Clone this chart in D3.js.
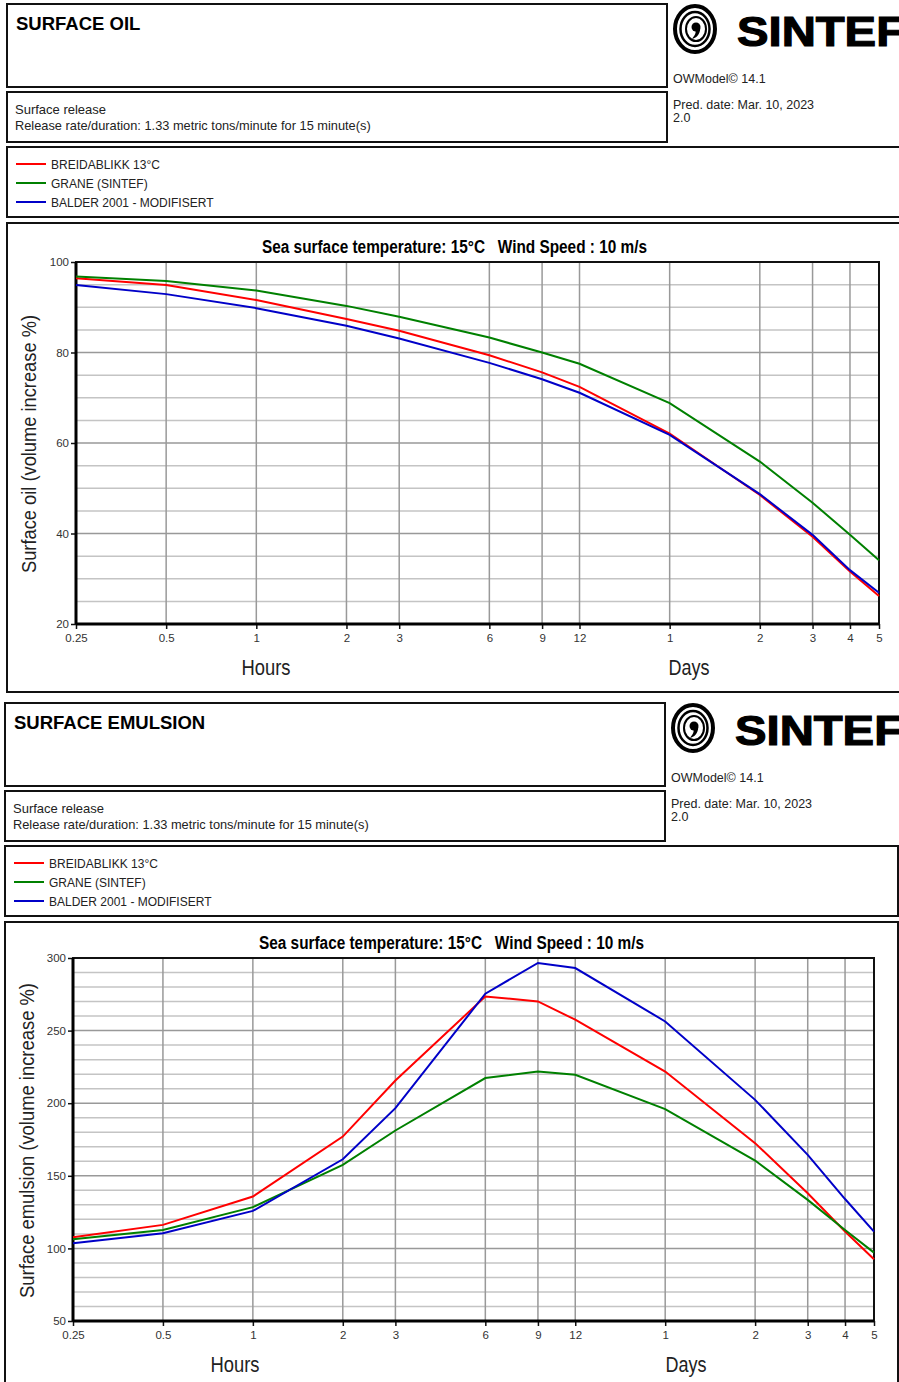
<!DOCTYPE html>
<html>
<head>
<meta charset="utf-8">
<script src="https://cdn.jsdelivr.net/npm/d3@7"></script>
<style>
  body { margin: 0; background: #fff; }
  text { font-family: "Liberation Sans", Arial, sans-serif; white-space: pre; }
  .narrow { font-family: "Liberation Sans Narrow", "Arial Narrow", "Liberation Sans", sans-serif; }
</style>
</head>
<body>
<svg id="page" width="899" height="1382"></svg>
<script>
// time axis, in hours (labels switch to days after 12 h)
const hours = [0.25, 0.5, 1, 2, 3, 6, 9, 12, 24, 48, 72, 96, 120];
const hourTickLabels = ["0.25", "0.5", "1", "2", "3", "6", "9", "12", "1", "2", "3", "4", "5"];

const oilNames = ["BREIDABLIKK 13°C", "GRANE (SINTEF)", "BALDER 2001 - MODIFISERT"];
const oilColors = ["#ff0000", "#008000", "#0000c8"];

// surface oil, volume %
const oilBreidablikk = [96.4, 94.9, 91.6, 87.4, 84.8, 79.4, 75.6, 72.4, 62.1, 48.5, 39.3, 31.6, 26.2];
const oilGrane       = [96.8, 95.8, 93.7, 90.3, 87.9, 83.3, 80.0, 77.5, 68.8, 55.9, 46.8, 39.7, 34.1];
const oilBalder      = [94.9, 92.9, 89.8, 85.9, 83.1, 77.7, 74.1, 71.1, 61.8, 48.7, 39.7, 31.9, 26.9];

// surface emulsion, volume %
const emulBreidablikk = [107.7, 116.2, 135.7, 177.0, 215.6, 273.5, 270.1, 257.5, 221.8, 172.5, 138.0, 111.6, 92.5];
const emulGrane       = [106.3, 112.7, 128.4, 157.5, 181.2, 217.3, 221.8, 219.6, 195.9, 160.5, 133.4, 112.7, 97.1];
const emulBalder      = [103.6, 110.4, 125.8, 161.4, 196.6, 275.4, 296.6, 293.1, 256.3, 202.3, 164.4, 134.0, 111.6];

const oilTicks = [20, 40, 60, 80, 100];
const emulTicks = [50, 100, 150, 200, 250, 300];

const svg = d3.select("#page");

const panels = [
  {
    title: "SURFACE OIL", dx: 0, dy: 0, boxRight: 902,
    yDomain: [20, 100], yTicks: oilTicks, minorStep: 5,
    yLabel: "Surface oil (volume increase %)", yLabelLen: 258,
    plot: { left: 76, right: 879, top: 262, bottom: 624 },
    hoursX: 266, daysX: 689, chartBottom: 692,
    series: [oilBreidablikk, oilGrane, oilBalder]
  },
  {
    title: "SURFACE EMULSION", dx: -2, dy: 699, boxRight: 898,
    yDomain: [50, 300], yTicks: emulTicks, minorStep: 10,
    yLabel: "Surface emulsion (volume increase %)", yLabelLen: 315,
    plot: { left: 73, right: 874, top: 958, bottom: 1321 },
    hoursX: 235, daysX: 686, chartBottom: 1392,
    series: [emulBreidablikk, emulGrane, emulBalder]
  }
];

const box = (g, x, y, w, h) =>
  g.append("rect").attr("x", x).attr("y", y).attr("width", w).attr("height", h)
   .attr("fill", "none").attr("stroke", "#111").attr("stroke-width", 2);

const drawLogo = (g, cx, cy) => {
  // SINTEF emblem: rings with a comma inside
  g.append("ellipse").attr("cx", cx).attr("cy", cy).attr("rx", 20).attr("ry", 23)
   .attr("fill", "none").attr("stroke", "#000").attr("stroke-width", 4);
  g.append("ellipse").attr("cx", cx).attr("cy", cy).attr("rx", 14.5).attr("ry", 17)
   .attr("fill", "none").attr("stroke", "#000").attr("stroke-width", 2.5);
  g.append("ellipse").attr("cx", cx + 1).attr("cy", cy).attr("rx", 10).attr("ry", 12)
   .attr("fill", "none").attr("stroke", "#000").attr("stroke-width", 2);
  g.append("circle").attr("cx", cx + 1).attr("cy", cy - 2).attr("r", 4.5).attr("fill", "#000");
  g.append("path")
   .attr("d", `M${cx + 5.3},${cy - 1} C${cx + 5},${cy + 6} ${cx + 1},${cy + 9} ${cx - 3},${cy + 10} C${cx},${cy + 6} ${cx + 1},${cy + 4} ${cx + 0.5},${cy + 2} Z`)
   .attr("fill", "#000");
  g.append("text").attr("x", cx + 42).attr("y", cy + 17)
   .attr("font-size", 42).attr("font-weight", 900)
   .attr("stroke", "#000").attr("stroke-width", 1.2)
   .attr("textLength", 168).attr("lengthAdjust", "spacingAndGlyphs")
   .text("SINTEF");
};

const drawPanel = p => {
  const g = svg.append("g");
  const ox = 7 + p.dx, oy = p.dy;

  // header boxes
  box(g, ox, oy + 4, 660, 83);
  box(g, ox, oy + 92, 660, 50);
  box(g, ox, oy + 147, p.boxRight - ox, 70);
  box(g, ox, oy + 223, p.boxRight - ox, p.chartBottom - oy - 223);

  g.append("text").attr("x", ox + 9).attr("y", oy + 30)
   .attr("font-size", 18.5).attr("font-weight", "bold").text(p.title);

  g.append("text").attr("x", ox + 8).attr("y", oy + 114).attr("font-size", 13).attr("fill", "#222").text("Surface release");
  g.append("text").attr("x", ox + 8).attr("y", oy + 130).attr("font-size", 12.8).attr("fill", "#222")
   .text("Release rate/duration: 1.33 metric tons/minute for 15 minute(s)");

  drawLogo(g, ox + 688, oy + 29);
  g.append("text").attr("x", ox + 666).attr("y", oy + 83).attr("font-size", 12.5).attr("fill", "#222").text("OWModel© 14.1");
  g.append("text").attr("x", ox + 666).attr("y", oy + 109).attr("font-size", 12.5).attr("fill", "#222").text("Pred. date: Mar. 10, 2023");
  g.append("text").attr("x", ox + 666).attr("y", oy + 122).attr("font-size", 12.5).attr("fill", "#222").text("2.0");

  // legend
  const leg = g.selectAll(".leg").data(oilNames).join("g")
    .attr("transform", (d, i) => `translate(${ox + 9},${oy + 164 + i * 19})`);
  leg.append("line").attr("x1", 0).attr("x2", 30).attr("stroke", (d, i) => oilColors[i]).attr("stroke-width", 2);
  leg.append("text").attr("x", 35).attr("y", 4.5).attr("font-size", 12).attr("fill", "#222").text(d => d);

  // plot
  const pl = p.plot;
  const x = d3.scaleLog().domain([0.25, 120]).range([pl.left, pl.right]);
  const y = d3.scaleLinear().domain(p.yDomain).range([pl.bottom, pl.top]);

  const minor = d3.range(p.yDomain[0], p.yDomain[1], p.minorStep).filter(v => !p.yTicks.includes(v));
  g.append("g").selectAll("line").data(minor).join("line")
   .attr("x1", pl.left).attr("x2", pl.right).attr("y1", d => y(d)).attr("y2", d => y(d))
   .attr("stroke", "#c4c4c4").attr("stroke-width", 1.5);
  g.append("g").selectAll("line").data(p.yTicks).join("line")
   .attr("x1", pl.left).attr("x2", pl.right).attr("y1", d => y(d)).attr("y2", d => y(d))
   .attr("stroke", "#999").attr("stroke-width", 1.5);
  g.append("g").selectAll("line").data(hours).join("line")
   .attr("x1", d => x(d)).attr("x2", d => x(d)).attr("y1", pl.top).attr("y2", pl.bottom)
   .attr("stroke", "#999").attr("stroke-width", 1.5);

  const xAxis = g.append("g").attr("transform", `translate(0,${pl.bottom})`)
    .call(d3.axisBottom(x).tickValues(hours).tickFormat((d, i) => hourTickLabels[i]).tickSize(5).tickSizeOuter(0).tickPadding(5));
  const yAxis = g.append("g").attr("transform", `translate(${pl.left},0)`)
    .call(d3.axisLeft(y).tickValues(p.yTicks).tickSize(5).tickSizeOuter(0).tickPadding(2));
  [xAxis, yAxis].forEach(a => {
    a.select(".domain").remove();
    a.selectAll(".tick line").attr("stroke", "#111").attr("stroke-width", 1.5);
    a.selectAll(".tick text").attr("font-family", "Liberation Sans, Arial, sans-serif")
     .attr("font-size", 11.5).attr("fill", "#333");
  });

  // frame
  g.append("rect").attr("x", pl.left).attr("y", pl.top).attr("width", pl.right - pl.left).attr("height", pl.bottom - pl.top)
   .attr("fill", "none").attr("stroke", "#111").attr("stroke-width", 2);
  g.append("line").attr("x1", pl.left).attr("x2", pl.left).attr("y1", pl.top).attr("y2", pl.bottom)
   .attr("stroke", "#000").attr("stroke-width", 3);
  g.append("line").attr("x1", pl.left).attr("x2", pl.right).attr("y1", pl.bottom).attr("y2", pl.bottom)
   .attr("stroke", "#000").attr("stroke-width", 3);

  const line = d3.line().x((d, i) => x(hours[i])).y(d => y(d));
  g.append("g").selectAll("path").data(p.series).join("path")
   .attr("d", line).attr("fill", "none")
   .attr("stroke", (d, i) => oilColors[i]).attr("stroke-width", 2);

  // titles
  g.append("text").attr("class", "narrow")
   .attr("x", (ox + p.boxRight) / 2).attr("y", pl.top - 9)
   .attr("text-anchor", "middle").attr("font-size", 18).attr("font-weight", "bold")
   .attr("textLength", 385).attr("lengthAdjust", "spacingAndGlyphs")
   .text("Sea surface temperature: 15°C   Wind Speed : 10 m/s");

  g.append("text").attr("class", "narrow")
   .attr("transform", `translate(${ox + 29},${(pl.top + pl.bottom) / 2 + 1}) rotate(-90)`)
   .attr("text-anchor", "middle").attr("font-size", 21).attr("fill", "#222")
   .attr("textLength", p.yLabelLen).attr("lengthAdjust", "spacingAndGlyphs")
   .text(p.yLabel);

  g.append("text").attr("class", "narrow").attr("x", p.hoursX).attr("y", pl.bottom + 51)
   .attr("text-anchor", "middle").attr("font-size", 22).attr("fill", "#222")
   .attr("textLength", 49).attr("lengthAdjust", "spacingAndGlyphs").text("Hours");
  g.append("text").attr("class", "narrow").attr("x", p.daysX).attr("y", pl.bottom + 51)
   .attr("text-anchor", "middle").attr("font-size", 22).attr("fill", "#222")
   .attr("textLength", 41).attr("lengthAdjust", "spacingAndGlyphs").text("Days");
};

panels.forEach(drawPanel);
</script>
</body>
</html>
